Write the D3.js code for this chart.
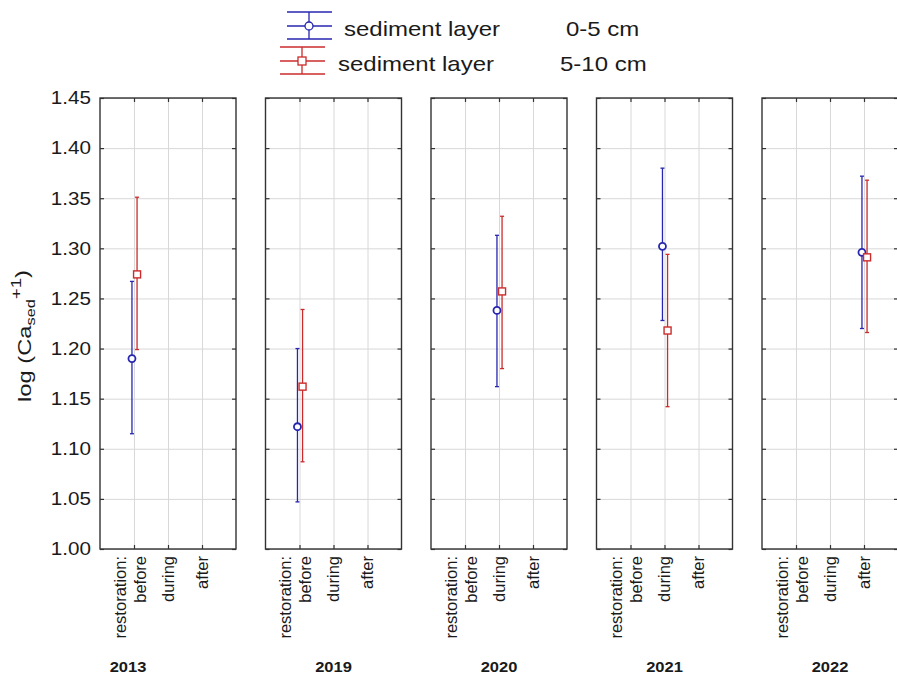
<!DOCTYPE html>
<html>
<head>
<meta charset="utf-8">
<script src="https://cdn.jsdelivr.net/npm/d3@7"></script>
<style>
  body { margin: 0; background: #fff; }
  text { font-family: "Liberation Sans", Arial, sans-serif; fill: #1a1a1a; }
</style>
</head>
<body>
<svg width="897" height="678"></svg>
<script>
// values
var years = ["2013", "2019", "2020", "2021", "2022"];
var yearPhase = ["before", "before", "during", "during", "after"];
var phases = ["before", "during", "after"];
var yTicks = [1.00, 1.05, 1.10, 1.15, 1.20, 1.25, 1.30, 1.35, 1.40, 1.45];

// sediment layer 0-5 cm : mean and CI
var mean05 = [1.190, 1.122, 1.238, 1.302, 1.296];
var low05 = [1.115, 1.047, 1.162, 1.228, 1.220];
var high05 = [1.267, 1.200, 1.313, 1.380, 1.372];
// sediment layer 5-10 cm
var mean510 = [1.274, 1.162, 1.257, 1.218, 1.291];
var low510 = [1.199, 1.087, 1.180, 1.142, 1.216];
var high510 = [1.351, 1.239, 1.332, 1.294, 1.368];

var seriesNames = ["sediment layer", "sediment layer"];
var seriesDepth = ["0-5 cm", "5-10 cm"];

var blue = "#2626b0", red = "#cc2b2b";
var stretch = "scale(1.18,1)";

// note: "top" is taken by window.top, so use other names
var plotTop = 98, plotBot = 549, pw = 136;
var svg = d3.select("svg");

var y = d3.scaleLinear().domain([1.00, 1.45]).range([plotBot, plotTop]);
// left edge of each panel
var px = d3.scaleLinear().domain([0, years.length - 1]).range([100, 762]);
// position inside a panel: before/during/after sit at 1,2,3
var x = d3.scaleLinear().domain([0, 4]).range([0, pw]);

var series = [
  {mean: mean05, low: low05, high: high05, color: blue, dx: -0.06, shape: "circle"},
  {mean: mean510, low: low510, high: high510, color: red, dx: 0.09, shape: "square"}
];

years.forEach(function(yr, i) {
  var g = svg.append("g").attr("transform", "translate(" + px(i) + ",0)");

  // gridlines
  g.append("g").attr("class", "grid")
    .call(d3.axisLeft(y).tickValues(yTicks).tickSize(-pw).tickFormat(""))
    .call(function(s) { s.select(".domain").remove(); });
  g.append("g").attr("class", "grid")
    .attr("transform", "translate(0," + plotBot + ")")
    .call(d3.axisBottom(x).tickValues([1, 2, 3]).tickSize(-(plotBot - plotTop)).tickFormat(""))
    .call(function(s) { s.select(".domain").remove(); });
  g.selectAll(".grid line").attr("stroke", "#d8d8d8").attr("stroke-width", 1);

  // short inward ticks on every side
  var tk = g.append("g").attr("class", "tk");
  tk.append("g").call(d3.axisLeft(y).tickValues(yTicks).tickSize(-4).tickFormat(""));
  tk.append("g").attr("transform", "translate(" + pw + ",0)")
    .call(d3.axisRight(y).tickValues(yTicks).tickSize(-4).tickFormat(""));
  tk.append("g").attr("transform", "translate(0," + plotBot + ")")
    .call(d3.axisBottom(x).tickValues([1, 2, 3]).tickSize(-4).tickFormat(""));
  tk.append("g").attr("transform", "translate(0," + plotTop + ")")
    .call(d3.axisTop(x).tickValues([1, 2, 3]).tickSize(-4).tickFormat(""));
  tk.selectAll(".domain").remove();
  tk.selectAll("line").attr("stroke", "#333").attr("stroke-width", 1.2);

  // frame
  g.append("rect")
    .attr("x", 0).attr("y", plotTop).attr("width", pw).attr("height", plotBot - plotTop)
    .attr("fill", "none").attr("stroke", "#333").attr("stroke-width", 1.4);

  // x tick labels, rotated
  phases.forEach(function(p, k) {
    var t = g.append("text")
      .attr("transform", "translate(" + x(k + 1) + "," + (plotBot + 7) + ") rotate(-90)")
      .attr("text-anchor", "end")
      .style("font-size", "16.5px");
    if (k === 0) {
      t.append("tspan").attr("x", 0).attr("dy", "-0.5em").text("restoration:");
      t.append("tspan").attr("x", 0).attr("dy", "1.2em").text(p);
    } else {
      t.attr("dy", "0.35em").text(p);
    }
  });

  // error bars and markers
  var cx = x(phases.indexOf(yearPhase[i]) + 1);
  series.forEach(function(s) {
    var xx = cx + x(s.dx) - x(0);
    var eb = g.append("g").attr("stroke", s.color).attr("stroke-width", 1.3).attr("fill", "none");
    eb.append("line").attr("x1", xx).attr("x2", xx).attr("y1", y(s.low[i])).attr("y2", y(s.high[i]));
    eb.append("line").attr("x1", xx - 2).attr("x2", xx + 2).attr("y1", y(s.low[i])).attr("y2", y(s.low[i]));
    eb.append("line").attr("x1", xx - 2).attr("x2", xx + 2).attr("y1", y(s.high[i])).attr("y2", y(s.high[i]));
    if (s.shape === "circle") {
      eb.append("circle").attr("cx", xx).attr("cy", y(s.mean[i])).attr("r", 3.5)
        .attr("stroke-width", 1.8).attr("fill", "#fff");
    } else {
      eb.append("rect").attr("x", xx - 3.5).attr("y", y(s.mean[i]) - 3.5)
        .attr("width", 7).attr("height", 7).attr("stroke-width", 1.4).attr("fill", "#fff");
    }
  });

  // year label
  var yx = i === 0 ? 128 - px(0) : pw / 2;
  g.append("text")
    .attr("transform", "translate(" + yx + ",672) " + stretch)
    .attr("text-anchor", "middle")
    .style("font-size", "14px").style("font-weight", "bold")
    .text(yr);
});

// y tick labels
svg.append("g").selectAll("text")
  .data(yTicks)
  .enter().append("text")
  .attr("transform", function(d) { return "translate(91," + y(d) + ") " + stretch; })
  .attr("text-anchor", "end")
  .attr("dy", "0.36em")
  .style("font-size", "17.5px")
  .text(d3.format(".2f"));

// y axis title
var yt = svg.append("text")
  .attr("transform", "translate(31,336) rotate(-90) scale(1.25,1)")
  .attr("text-anchor", "middle")
  .style("font-size", "19px");
yt.append("tspan").text("log (Ca");
yt.append("tspan").attr("dy", "0.3em").style("font-size", "13px").text("sed");
yt.append("tspan").attr("dy", "-0.95em").style("font-size", "15px").text("+1");
yt.append("tspan").attr("dy", "0.4em").text(")");

// legend
var legX = [309, 302], legY = [26, 61], textX = [344, 338], depthX = [566, 560];
series.forEach(function(s, k) {
  var lg = svg.append("g").attr("stroke", s.color).attr("stroke-width", 1.3).attr("fill", "none");
  [-14, 0, 13].forEach(function(o) {
    lg.append("line").attr("x1", legX[k] - 22).attr("x2", legX[k] + 23)
      .attr("y1", legY[k] + o).attr("y2", legY[k] + o);
  });
  lg.append("line").attr("x1", legX[k]).attr("x2", legX[k])
    .attr("y1", legY[k] - 14).attr("y2", legY[k] + 13);
  if (s.shape === "circle") {
    lg.append("circle").attr("cx", legX[k]).attr("cy", legY[k]).attr("r", 4).attr("fill", "#fff");
  } else {
    lg.append("rect").attr("x", legX[k] - 4).attr("y", legY[k] - 4)
      .attr("width", 8).attr("height", 8).attr("fill", "#fff");
  }
  svg.append("text")
    .attr("transform", "translate(" + textX[k] + "," + (legY[k] + 4) + ") scale(1.2,1)")
    .attr("dy", "0.3em")
    .style("font-size", "20px")
    .text(seriesNames[k]);
  svg.append("text")
    .attr("transform", "translate(" + depthX[k] + "," + (legY[k] + 4) + ") scale(1.2,1)")
    .attr("dy", "0.3em")
    .style("font-size", "20px")
    .text(seriesDepth[k]);
});
</script>
</body>
</html>
